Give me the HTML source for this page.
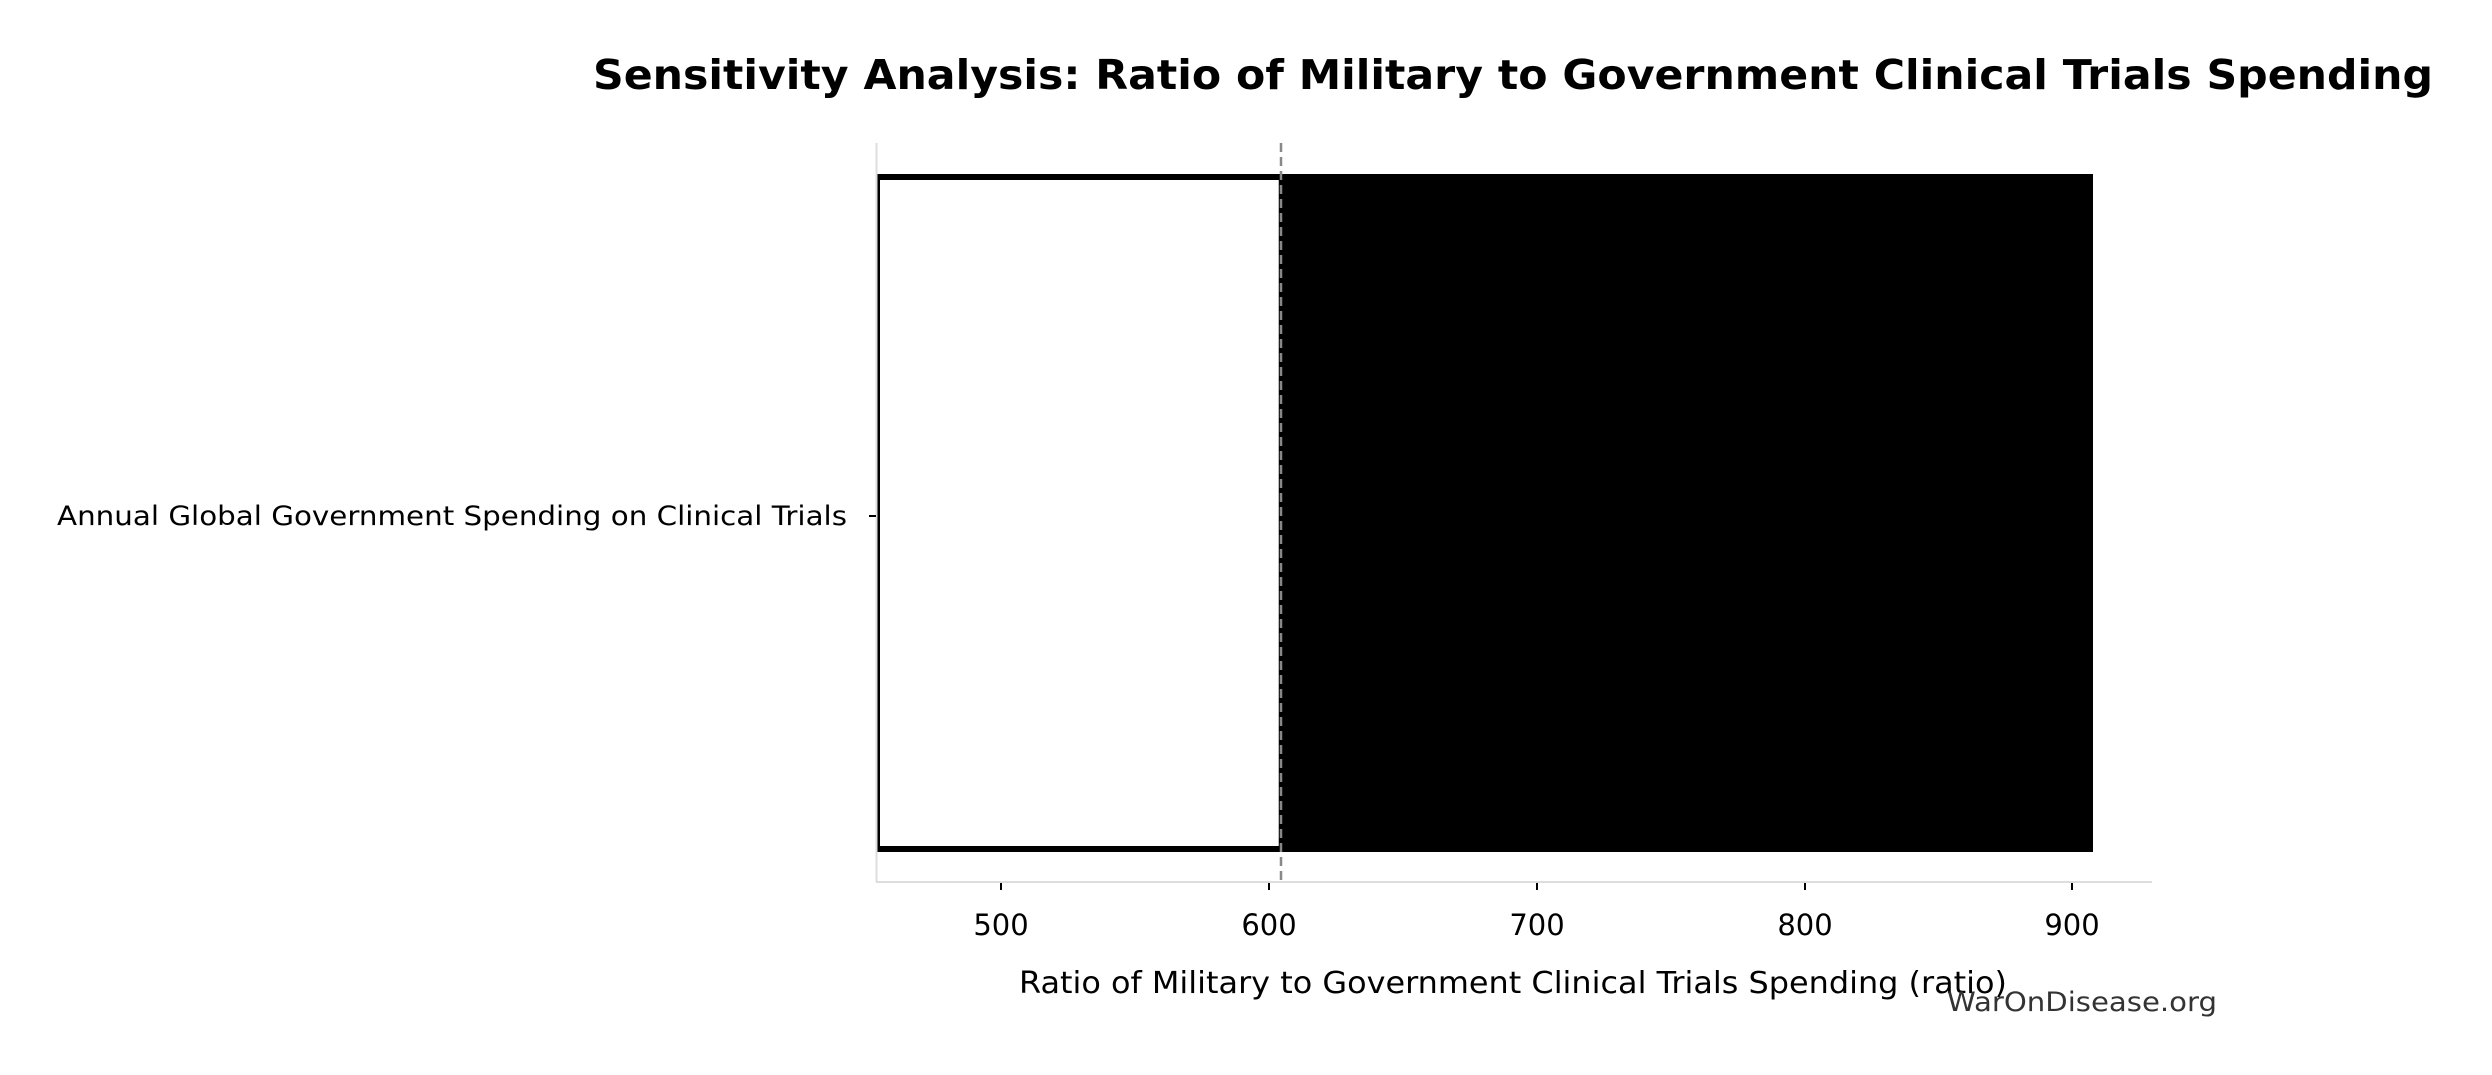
<!DOCTYPE html>
<html><head><style>body{margin:0;background:#fff}svg{display:block}text{font-family:"DejaVu Sans","Liberation Sans",sans-serif}</style></head>
<body>
<svg width="2492" height="1075" viewBox="0 0 2492 1075" xmlns="http://www.w3.org/2000/svg">
<rect width="2492" height="1075" fill="#fff"/>
<text x="1513" y="89" font-size="41" font-weight="bold" text-anchor="middle" textLength="1840" lengthAdjust="spacingAndGlyphs">Sensitivity Analysis: Ratio of Military to Government Clinical Trials Spending</text>
<!-- bars -->
<rect x="1279" y="174" width="814" height="678" fill="#000"/>
<rect x="877" y="174" width="402" height="678" fill="#000"/>
<rect x="880" y="180" width="398" height="666" fill="#fff"/>
<line x1="1278.5" y1="180" x2="1278.5" y2="846" stroke="#bbb" stroke-width="1"/>
<!-- dashed ref -->
<line x1="1281" y1="143" x2="1281" y2="882" stroke="#888" stroke-width="2.5" stroke-dasharray="9,5"/>
<!-- spines -->
<line x1="876.5" y1="143" x2="876.5" y2="882" stroke="#ddd" stroke-width="2"/>
<line x1="876" y1="882" x2="2152" y2="882" stroke="#ddd" stroke-width="2"/>
<line x1="869" y1="516" x2="876" y2="516" stroke="#000" stroke-width="2"/>
<g stroke="#000" stroke-width="2">
<line x1="1001" y1="883" x2="1001" y2="890"/>
<line x1="1269" y1="883" x2="1269" y2="890"/>
<line x1="1537" y1="883" x2="1537" y2="890"/>
<line x1="1805" y1="883" x2="1805" y2="890"/>
<line x1="2072" y1="883" x2="2072" y2="890"/>
</g>
<g font-size="29" text-anchor="middle">
<text x="1001" y="935">500</text>
<text x="1269" y="935">600</text>
<text x="1537" y="935">700</text>
<text x="1805" y="935">800</text>
<text x="2072" y="935">900</text>
</g>
<text x="847" y="525" font-size="27" text-anchor="end" textLength="790" lengthAdjust="spacingAndGlyphs">Annual Global Government Spending on Clinical Trials</text>
<text x="1513" y="993" font-size="30" text-anchor="middle" textLength="988" lengthAdjust="spacingAndGlyphs">Ratio of Military to Government Clinical Trials Spending (ratio)</text>
<text x="2217" y="1011" font-size="27" fill="#333" text-anchor="end" textLength="270" lengthAdjust="spacingAndGlyphs">WarOnDisease.org</text>
</svg>
</body></html>
